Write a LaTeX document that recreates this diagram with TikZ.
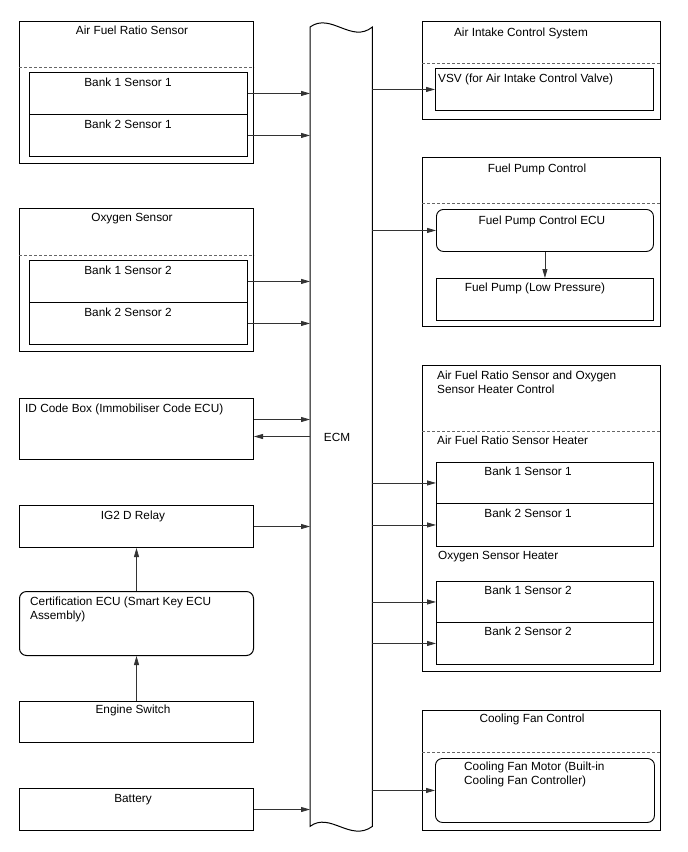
\documentclass[tikz,border=0pt]{standalone}
\usepackage{fontspec}
\setmainfont{Liberation Sans}
\usetikzlibrary{arrows.meta}
\begin{document}
\begin{tikzpicture}[x=1pt,y=-1pt,
  box/.style={draw, line width=1pt, inner sep=0pt, anchor=north west},
  inbox/.style={draw, line width=0.9pt, inner sep=0pt, anchor=north west},
  rbox/.style={inbox, rounded corners=7pt},
  dashline/.style={draw=black!60, line width=0.8pt, dash pattern=on 3pt off 2pt},
  arr/.style={draw=black!80, line width=0.8pt, -{Triangle[length=9pt,width=5pt]}},
  lbl/.style={font=\fontsize{11.8}{14}\selectfont, inner sep=0pt, anchor=base},
  lbll/.style={lbl, anchor=base west},
  lblm/.style={font=\fontsize{11.8}{14}\selectfont, inner sep=0pt, anchor=north west, align=left},
]
\useasboundingbox (0,0) rectangle (688,852);

% ---------- left column ----------
\node[box, minimum width=234pt, minimum height=142pt] (afr) at (19,21) {};
\draw[dashline] ([yshift=-46pt]afr.north west) -- ([yshift=-46pt]afr.north east);
\node[inbox, minimum width=218pt, minimum height=42pt] (afr1) at (29,72) {};
\node[inbox, minimum width=218pt, minimum height=42pt] (afr2) at (29,114) {};
\node[lbl] (tafr) at (132,34) {Air Fuel Ratio Sensor};
\node[lbl] (tafr1) at (128,86) {Bank 1 Sensor 1};
\node[lbl] (tafr2) at (128,128) {Bank 2 Sensor 1};

\node[box, minimum width=234pt, minimum height=143pt] (oxy) at (19,208) {};
\draw[dashline] ([yshift=-47pt]oxy.north west) -- ([yshift=-47pt]oxy.north east);
\node[inbox, minimum width=218pt, minimum height=42pt] (oxy1) at (29,260) {};
\node[inbox, minimum width=218pt, minimum height=42pt] (oxy2) at (29,302) {};
\node[lbl] (toxy) at (132,221) {Oxygen Sensor};
\node[lbl] (toxy1) at (128,274) {Bank 1 Sensor 2};
\node[lbl] (toxy2) at (128,316) {Bank 2 Sensor 2};

\node[box, minimum width=234pt, minimum height=61pt] (id) at (19,398) {};
\node[lbll] (tid) at (25,412) {ID Code Box (Immobiliser Code ECU)};

\node[box, minimum width=234pt, minimum height=42pt] (ig2) at (19,505) {};
\node[lbl] (tig2) at (133,519) {IG2 D Relay};

\node[box, rounded corners=7pt, minimum width=234pt, minimum height=64pt] (cert) at (19,591) {};
\node[lblm] (tcert) at (30,596.5) {Certification ECU (Smart Key ECU\\Assembly)};

\node[box, minimum width=234pt, minimum height=41pt] (eng) at (19,701) {};
\node[lbl] (teng) at (133,713) {Engine Switch};

\node[box, minimum width=234pt, minimum height=42pt] (bat) at (19,788) {};
\node[lbl] (tbat) at (133,802) {Battery};

% ---------- ECM ----------
\node[inner sep=0pt, minimum width=62pt, minimum height=799pt, anchor=north west] (ecm) at (310,27) {};
\draw[line width=1pt] (ecm.north west) .. controls +(21,-15) and +(-21,17) .. (ecm.north east)
  -- (ecm.south east) .. controls +(-22,16) and +(20,-15) .. (ecm.south west) -- cycle;
\node[lbl] (tecm) at (337,441) {ECM};

% ---------- right column ----------
\node[box, minimum width=238pt, minimum height=98pt] (air) at (422,21) {};
\draw[dashline] ([yshift=-42pt]air.north west) -- ([yshift=-42pt]air.north east);
\node[inbox, minimum width=218pt, minimum height=42pt] (vsv) at (435,68) {};
\node[lbl] (tair) at (521,36) {Air Intake Control System};
\node[lbll] (tvsv) at (438,82) {VSV (for Air Intake Control Valve)};

\node[box, minimum width=238pt, minimum height=169pt] (fuel) at (422,157) {};
\draw[dashline] ([yshift=-46pt]fuel.north west) -- ([yshift=-46pt]fuel.north east);
\node[rbox, minimum width=217pt, minimum height=42pt] (fecu) at (436,209) {};
\node[inbox, minimum width=217pt, minimum height=42pt] (fpump) at (436,278) {};
\node[lbl] (tfuel) at (537,172) {Fuel Pump Control};
\node[lbl] (tfecu) at (542,224) {Fuel Pump Control ECU};
\node[lbl] (tfpump) at (535,291) {Fuel Pump (Low Pressure)};

\node[box, minimum width=238pt, minimum height=306pt] (heat) at (422,365) {};
\draw[dashline] ([yshift=-66pt]heat.north west) -- ([yshift=-66pt]heat.north east);
\node[lblm] (theat) at (437,370.5) {Air Fuel Ratio Sensor and Oxygen\\Sensor Heater Control};
\node[lbll] (tafrh) at (437,444) {Air Fuel Ratio Sensor Heater};
\node[inbox, minimum width=217pt, minimum height=41pt] (h1) at (436,462) {};
\node[inbox, minimum width=217pt, minimum height=43pt] (h2) at (436,503) {};
\node[lbl] (th1) at (528,475) {Bank 1 Sensor 1};
\node[lbl] (th2) at (528,517) {Bank 2 Sensor 1};
\node[lbll] (toxyh) at (438,559) {Oxygen Sensor Heater};
\node[inbox, minimum width=217pt, minimum height=41pt] (h3) at (436,581) {};
\node[inbox, minimum width=217pt, minimum height=42pt] (h4) at (436,622) {};
\node[lbl] (th3) at (528,594) {Bank 1 Sensor 2};
\node[lbl] (th4) at (528,635) {Bank 2 Sensor 2};

\node[box, minimum width=238pt, minimum height=120pt] (cool) at (422,710) {};
\draw[dashline] ([yshift=-42pt]cool.north west) -- ([yshift=-42pt]cool.north east);
\node[rbox, minimum width=219pt, minimum height=64pt] (cfm) at (435,758) {};
\node[lbl] (tcool) at (532,722) {Cooling Fan Control};
\node[lblm] (tcfm) at (464,761.5) {Cooling Fan Motor (Built-in\\Cooling Fan Controller)};

% ---------- connectors ----------
\draw[arr] (afr1.east) -- (afr1.east -| ecm.west);
\draw[arr] (afr2.east) -- (afr2.east -| ecm.west);
\draw[arr] (oxy1.east) -- (oxy1.east -| ecm.west);
\draw[arr] (oxy2.east) -- (oxy2.east -| ecm.west);
\coordinate (idout) at ([yshift=9.5pt]id.east);
\coordinate (idin) at ([yshift=-7.5pt]id.east);
\draw[arr] (idout) -- (idout -| ecm.west);
\draw[arr] (idin -| ecm.west) -- (idin);
\draw[arr] (ig2.east) -- (ig2.east -| ecm.west);
\draw[arr] (cert.north) -- (ig2.south);
\draw[arr] (eng.north) -- (cert.south);
\draw[arr] (bat.east) -- (bat.east -| ecm.west);

\draw[arr] (vsv.west -| ecm.east) -- (vsv.west);
\draw[arr] (fecu.west -| ecm.east) -- (fecu.west);
\draw[arr] (fecu.south) -- (fpump.north);
\draw[arr] (h1.west -| ecm.east) -- (h1.west);
\draw[arr] (h2.west -| ecm.east) -- (h2.west);
\draw[arr] (h3.west -| ecm.east) -- (h3.west);
\draw[arr] (h4.west -| ecm.east) -- (h4.west);
\draw[arr] (cfm.west -| ecm.east) -- (cfm.west);
\end{tikzpicture}
\end{document}
